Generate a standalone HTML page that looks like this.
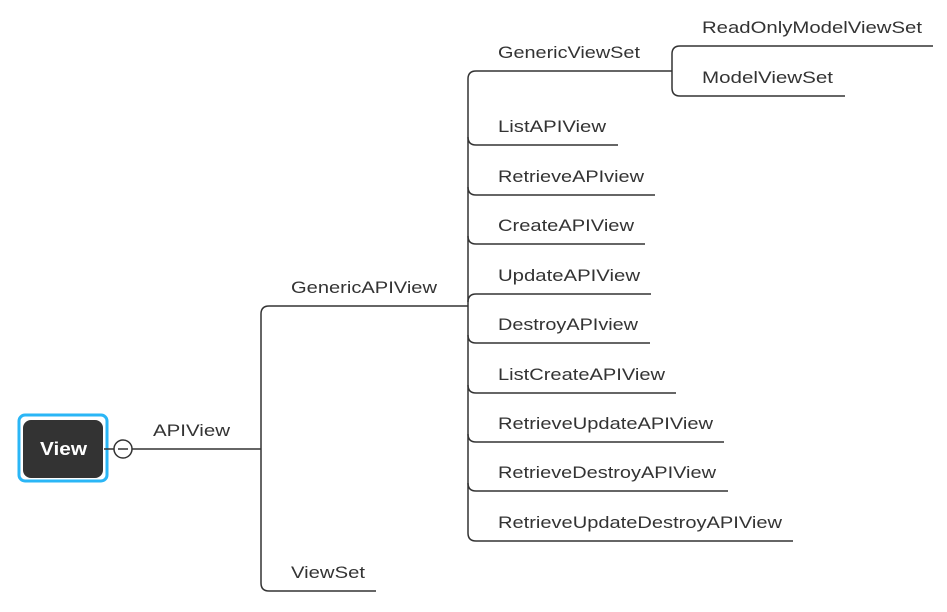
<!DOCTYPE html>
<html><head><meta charset="utf-8"><style>html,body{margin:0;padding:0;background:#fff}svg{display:block}</style></head>
<body>
<svg width="947" height="612" viewBox="0 0 947 612" xmlns="http://www.w3.org/2000/svg" font-family="Liberation Sans, sans-serif" font-size="17" fill="#333">
<g fill="none" stroke="#333" stroke-width="1.5">
<!-- root -->
<rect x="19" y="415" width="88" height="66" rx="6" stroke="#2ab6f6" stroke-width="3"/>
<line x1="104" y1="449" x2="114" y2="449"/>
<circle cx="123" cy="449" r="9"/>
<line x1="118" y1="449" x2="128" y2="449"/>
<line x1="132" y1="449" x2="261" y2="449"/>
<!-- level 1 -->
<path d="M261,314 V583"/>
<path d="M261,314 Q261,306 269,306 H468"/>
<path d="M261,583 Q261,591 269,591 H376"/>
<!-- level 2 -->
<path d="M468,79 V533"/>
<path d="M468,79 Q468,71 476,71 H672"/>
<path d="M468,137 Q468,145 476,145 H618"/>
<path d="M468,187 Q468,195 476,195 H655"/>
<path d="M468,236 Q468,244 476,244 H645"/>
<path d="M468,302 Q468,294 476,294 H651"/>
<path d="M468,335 Q468,343 476,343 H650"/>
<path d="M468,385 Q468,393 476,393 H676"/>
<path d="M468,434 Q468,442 476,442 H724"/>
<path d="M468,483 Q468,491 476,491 H728"/>
<path d="M468,533 Q468,541 476,541 H793"/>
<!-- level 3 -->
<path d="M672,54 V88"/>
<path d="M672,54 Q672,46 680,46 H933"/>
<path d="M672,88 Q672,96 680,96 H845"/>
</g>
<rect x="23" y="420" width="80" height="58" rx="8" fill="#333"/>
<text x="40" y="455" fill="#fff" font-weight="bold" font-size="18" textLength="47" lengthAdjust="spacingAndGlyphs">View</text>
<text x="153" y="436" textLength="77" lengthAdjust="spacingAndGlyphs">APIView</text>
<text x="291" y="293" textLength="146" lengthAdjust="spacingAndGlyphs">GenericAPIView</text>
<text x="291" y="578" textLength="74" lengthAdjust="spacingAndGlyphs">ViewSet</text>
<text x="498" y="58" textLength="142" lengthAdjust="spacingAndGlyphs">GenericViewSet</text>
<text x="498" y="132" textLength="108" lengthAdjust="spacingAndGlyphs">ListAPIView</text>
<text x="498" y="182" textLength="146" lengthAdjust="spacingAndGlyphs">RetrieveAPIview</text>
<text x="498" y="231" textLength="136" lengthAdjust="spacingAndGlyphs">CreateAPIView</text>
<text x="498" y="281" textLength="142" lengthAdjust="spacingAndGlyphs">UpdateAPIView</text>
<text x="498" y="330" textLength="140" lengthAdjust="spacingAndGlyphs">DestroyAPIview</text>
<text x="498" y="380" textLength="167" lengthAdjust="spacingAndGlyphs">ListCreateAPIView</text>
<text x="498" y="429" textLength="215" lengthAdjust="spacingAndGlyphs">RetrieveUpdateAPIView</text>
<text x="498" y="478" textLength="218" lengthAdjust="spacingAndGlyphs">RetrieveDestroyAPIView</text>
<text x="498" y="528" textLength="284" lengthAdjust="spacingAndGlyphs">RetrieveUpdateDestroyAPIView</text>
<text x="702" y="33" textLength="220" lengthAdjust="spacingAndGlyphs">ReadOnlyModelViewSet</text>
<text x="702" y="83" textLength="131" lengthAdjust="spacingAndGlyphs">ModelViewSet</text>
</svg>
</body></html>
